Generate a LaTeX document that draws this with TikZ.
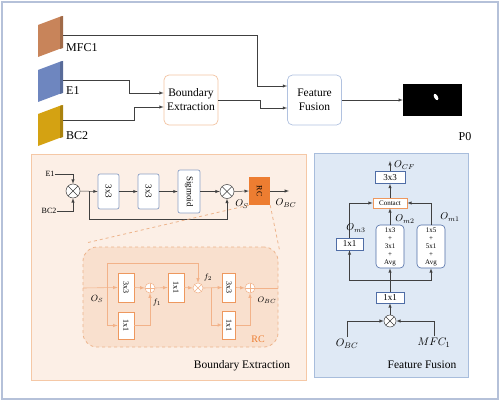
\documentclass[tikz,border=0pt]{standalone}
\usepackage{fontspec}
\setmainfont{Liberation Serif}
\usetikzlibrary{%
  arrows,%
  calc%
}
\tikzset{>=latex}
\definecolor{frameC}{HTML}{B5C1D9}
\definecolor{lineC}{HTML}{404040}
\definecolor{mfcC}{HTML}{C8845A}
\definecolor{eoneC}{HTML}{6E86BF}
\definecolor{bctwoC}{HTML}{D4A212}
\definecolor{beBorder}{HTML}{F3C4A2}
\definecolor{ffBorder}{HTML}{B1C2E0}
\definecolor{bePanel}{HTML}{FCEFE6}
\definecolor{bePanelBorder}{HTML}{F5C8A6}
\definecolor{ffPanel}{HTML}{DFE9F5}
\definecolor{ffPanelBorder}{HTML}{A8BDDC}
\definecolor{rcFill}{HTML}{F9E0CE}
\definecolor{rcDash}{HTML}{EDB48C}
\definecolor{rcLine}{HTML}{F2B289}
\definecolor{rcBoxBorder}{HTML}{EE985E}
\definecolor{rcOrange}{HTML}{ED7D31}
\definecolor{blueBorder}{HTML}{8DA1C6}
\definecolor{darkBlue}{HTML}{4F6DA6}
\newcommand{\vtext}[1]{\rotatebox{-90}{#1}}

\begin{document}
\begin{tikzpicture}[x=1pt,y=-1pt,
  conn/.style={draw=lineC,line width=0.5pt},
  rconn/.style={draw=rcLine,line width=0.6pt},
  topbox/.style={draw=#1,fill=white,rounded corners=5,line width=0.7pt,
    minimum width=54,minimum height=50,align=center,inner sep=1,
    font=\fontsize{11.5}{14}\selectfont},
  bluebox/.style={draw=blueBorder,fill=white,rounded corners=2,line width=0.7pt,
    inner sep=0,font=\fontsize{9}{10}\selectfont},
  rcbox/.style={draw=rcBoxBorder,fill=white,line width=0.7pt,
    inner sep=0,font=\fontsize{8}{9}\selectfont},
  ffbox/.style={draw=darkBlue,fill=white,line width=0.6pt,
    inner sep=0,font=\fontsize{9}{10}\selectfont},
  mulc/.style={circle,draw=#1,fill=white,minimum size=14,inner sep=0,line width=0.5pt,
    path picture={\draw[#1,line width=0.5pt]
      (path picture bounding box.north west) -- (path picture bounding box.south east)
      (path picture bounding box.north east) -- (path picture bounding box.south west);}},
  addc/.style={circle,draw=#1,fill=white,minimum size=10,inner sep=0,line width=0.5pt,
    path picture={\draw[#1,line width=0.5pt]
      (path picture bounding box.north) -- (path picture bounding box.south)
      (path picture bounding box.east) -- (path picture bounding box.west);}},
  lbl/.style={inner sep=0,font=\fontsize{#1}{#1}\selectfont},
  mlbl/.style={inner sep=0,font=\fontsize{#1}{#1}\selectfont,text=black}
]
\useasboundingbox (0,0) rectangle (500,401);
\draw[frameC,line width=1.2pt] (2,2) rectangle (498,399);

% input feature slabs
\foreach \yy/\col in {16/mfcC,61/eoneC,105/bctwoC}{
  \fill[\col] (38,\yy+9) -- (62,\yy) -- (62,\yy+32) -- (38,\yy+41) -- cycle;
  \fill[\col!80!black] (60,\yy+1) -- (63,\yy) -- (63,\yy+32) -- (60,\yy+33) -- cycle;
}
\coordinate (mfc) at (63,35);
\coordinate (eone) at (63,80);
\coordinate (bctwo) at (63,120);
\node[lbl=12,anchor=west] (mfc lab) at (66,48) {MFC1};
\node[lbl=12,anchor=west] (eone lab) at (66,91) {E1};
\node[lbl=12,anchor=west] (bctwo lab) at (66,136) {BC2};

\node[topbox=beBorder] (be) at (191,100) {Boundary\\Extraction};
\node[topbox=ffBorder] (ff) at (314.5,100) {Feature\\Fusion};
\node[fill=black,minimum width=59,minimum height=32,inner sep=0] (pimg) at (432.5,100) {};
\fill[white,rotate around={-60:(436,97)}] (436,97) ellipse (3.5 and 1.8);
\node[lbl=12] (pzero) at (465,137) {P0};

\draw[conn,->] (mfc) -| ([xshift=-30pt,yshift=14pt]ff.west) -- ([yshift=14pt]ff.west);
\draw[conn,->] (eone) -| ([xshift=-34pt,yshift=7pt]be.west) -- ([yshift=7pt]be.west);
\draw[conn,->] (bctwo) -| ([xshift=-29pt,yshift=-7pt]be.west) -- ([yshift=-7pt]be.west);
\draw[conn,->] (be.east) -| ([xshift=-27pt,yshift=-8pt]ff.west) -- ([yshift=-8pt]ff.west);
\draw[conn,->] (ff.east) -- (pimg.west);

% boundary extraction panel
\filldraw[fill=bePanel,draw=bePanelBorder,line width=1pt] (31,154) rectangle (306,380);
\node[lbl=11.5] (be title) at (242,366) {Boundary Extraction};

\node[lbl=8] (be eone) at (50,174) {E1};
\node[lbl=8] (be bctwo) at (49,211) {BC2};
\node[mulc=lineC] (mone) at (73,191) {};
\node[bluebox,minimum width=21,minimum height=35] (cone) at (108.5,191.5) {\vtext{3x3}};
\node[bluebox,minimum width=21,minimum height=35] (ctwo) at (148.5,191.5) {\vtext{3x3}};
\node[bluebox,minimum width=22,minimum height=43] (sig) at (189,191.5) {\vtext{Sigmoid}};
\node[mulc=lineC] (mtwo) at (227,191.5) {};
\node[fill=rcOrange,minimum width=21,minimum height=28,inner sep=0,
  font=\fontsize{8}{9}\selectfont] (rc) at (259.5,191) {\vtext{RC}};
\coordinate (be out) at (289,191);
\node[mlbl=10] (os lab) at (242,204) {$O_S$};
\node[mlbl=10] (obc lab) at (286,203) {$O_{BC}$};

\draw[conn,->] (be eone.east) -| (mone.north);
\draw[conn,->] (be bctwo.east) -| (mone.south);
\draw[conn,->] (mone.east) -- (cone.west);
\draw[conn,->] (cone.east) -- (ctwo.west);
\draw[conn,->] (ctwo.east) -- (sig.west);
\draw[conn,->] (sig.east) -- (mtwo.west);
\draw[conn,->] (mtwo.east) -- (rc.west);
\draw[conn,->] (rc.east) -- (be out);
\draw[conn,->] ($(mone.east)!0.5!(cone.west)$) -- ++(0,28) -| (mtwo.south);

% residual convolution block
\node[draw=rcDash,fill=rcFill,dashed,rounded corners=14,line width=0.8pt,
  minimum width=195,minimum height=100] (rcreg) at (180.5,297) {};
\draw[rcDash,dashed,line width=0.8pt] (rc.south west) -- ([xshift=5pt,yshift=4pt]rcreg.north west);
\draw[rcDash,dashed,line width=0.8pt] (rc.south east) -- ([xshift=1pt,yshift=-3pt]rcreg.north east);

\coordinate (rc in) at (83,288);
\coordinate (rc split) at (107,288);
\node[rcbox,minimum width=16,minimum height=29] (rone) at (126,287.5) {\vtext{3x3}};
\node[rcbox,minimum width=16,minimum height=27] (rtwo) at (126,325.5) {\vtext{1x1}};
\node[addc=rcLine] (pone) at (150,288) {};
\node[rcbox,minimum width=16,minimum height=29] (rthree) at (176,287.5) {\vtext{1x1}};
\node[mulc=rcLine,minimum size=10] (mthree) at (198,288) {};
\coordinate (rc splittwo) at (211,288);
\node[rcbox,minimum width=13,minimum height=29] (rfour) at (229,287.5) {\vtext{3x3}};
\node[rcbox,minimum width=13,minimum height=28] (rfive) at (229,325) {\vtext{1x1}};
\node[addc=rcLine] (ptwo) at (250,288) {};
\coordinate (rc out) at (278,288);

\draw[rconn,->] (rc in) -- (rone.west);
\draw[rconn,->] (rc split) |- (rtwo.west);
\draw[rconn,->] (rc split) -- (107,263) -| (mthree.north);
\draw[rconn,->] (rone.east) -- (pone.west);
\draw[rconn,->] (rtwo.east) -| (pone.south);
\draw[rconn,->] (pone.east) -- (rthree.west);
\draw[rconn,->] (rthree.east) -- (mthree.west);
\draw[rconn,->] (mthree.east) -- (rfour.west);
\draw[rconn,->] (rc splittwo) |- (rfive.west);
\draw[rconn,->] (rfour.east) -- (ptwo.west);
\draw[rconn,->] (rfive.east) -| (ptwo.south);
\draw[rconn] (ptwo.east) -- (rc out);

\node[mlbl=9] (rc os) at (97,299) {$O_S$};
\node[mlbl=8] (rc fone) at (157,302) {$f_1$};
\node[mlbl=8] (rc ftwo) at (208,277) {$f_2$};
\node[mlbl=8] (rc obc) at (267,300) {$O_{BC}$};
\node[lbl=10,text=rcOrange] (rc title) at (258,339) {RC};

% feature fusion panel
\filldraw[fill=ffPanel,draw=ffPanelBorder,line width=1pt] (314,153) rectangle (468,377);
\node[lbl=11.5] (ff title) at (422,365) {Feature Fusion};

\node[ffbox,minimum width=30,minimum height=12] (fconv) at (390,177.5) {3x3};
\coordinate (ff out) at (390,161);
\node[draw=rcBoxBorder,fill=white,line width=0.6pt,inner sep=0,minimum width=34,
  minimum height=10,font=\fontsize{7}{8}\selectfont] (contact) at (390,203) {Contact};
\node[ffbox,minimum width=27,minimum height=12] (fone) at (349.5,244) {1x1};
\node[ffbox,rounded corners=4,minimum width=28,minimum height=43,align=center,
  font=\fontsize{7}{8}\selectfont] (ftwo) at (390,246.5) {1x3\\+\\3x1\\+\\Avg};
\node[ffbox,rounded corners=4,minimum width=28,minimum height=43,align=center,
  font=\fontsize{7}{8}\selectfont] (fthree) at (431,246.5) {1x5\\+\\5x1\\+\\Avg};
\coordinate (ff split) at (390,280);
\node[ffbox,minimum width=28,minimum height=11] (ffour) at (390,297.5) {1x1};
\node[mulc=lineC,minimum size=12] (mfour) at (390,321) {};
\node[mlbl=11] (ff obc) at (347,344) {$O_{BC}$};
\node[mlbl=11] (ff mfc) at (434,343) {$MFC_1$};

\draw[conn,->] (fconv.north) -- (ff out);
\draw[conn,->] (contact.north) -- (fconv.south);
\draw[conn,->] (fone.north) |- (contact.west);
\draw[conn,->] (ftwo.north) -- (contact.south);
\draw[conn,->] (fthree.north) |- (contact.east);
\draw[conn] (ffour.north) -- (ff split);
\draw[conn,->] (ff split) -| (fone.south);
\draw[conn,->] (ff split) -| (fthree.south);
\draw[conn,->] (ff split) -- (ftwo.south);
\draw[conn,->] (mfour.north) -- (ffour.south);
\draw[conn,->] ([yshift=2pt]ff obc.north) |- (mfour.west);
\draw[conn,->] ([yshift=2pt]ff mfc.north) |- (mfour.east);

\node[mlbl=10,anchor=west] (ocf lab) at (394,165) {$O_{CF}$};
\node[mlbl=10] (om three) at (356,228) {$O_{m3}$};
\node[mlbl=10] (om two) at (405,219) {$O_{m2}$};
\node[mlbl=10] (om one) at (450,217) {$O_{m1}$};
\end{tikzpicture}
\end{document}
